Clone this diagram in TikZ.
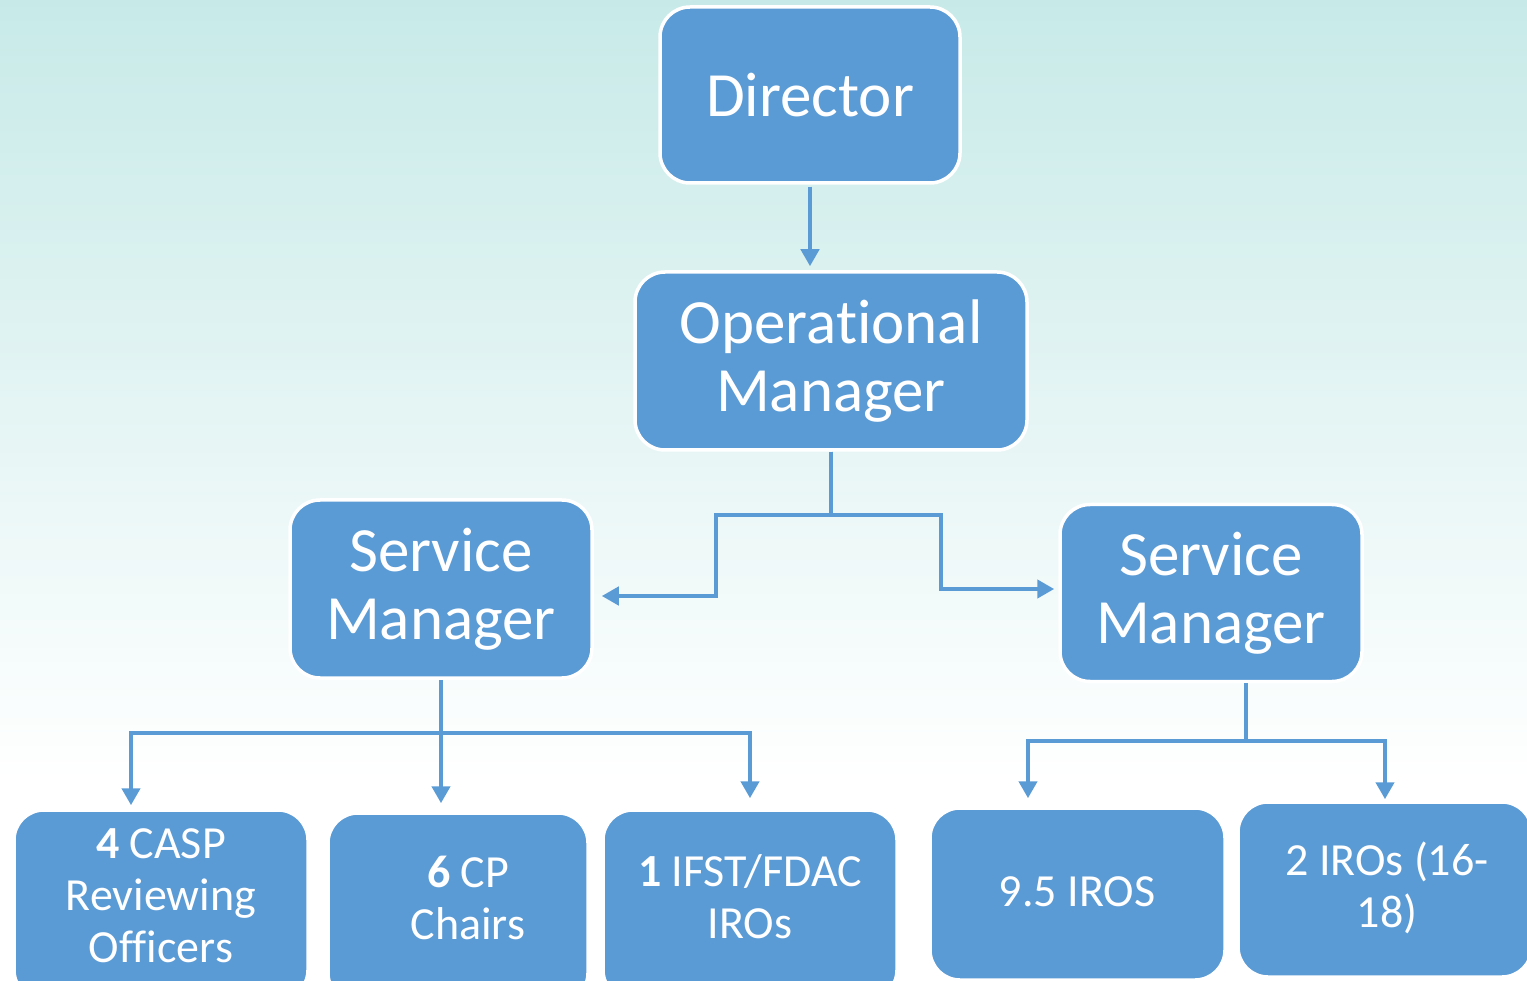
\documentclass[tikz,border=0pt]{standalone}
\usepackage{fontspec}
\setmainfont[RawFeature={-liga;-dlig;-clig}]{Carlito}
\usetikzlibrary{arrows.meta}
\definecolor{boxblue}{RGB}{91,155,213}
\definecolor{bgtop}{RGB}{199,234,232}
\begin{document}
\begin{tikzpicture}[x=1pt,y=-1pt,
  box/.style={rectangle, rounded corners=30pt, fill=boxblue, draw=white, line width=3.5pt, inner sep=0pt},
  big/.style={text=white, align=center, font=\fontsize{63}{68}\selectfont},
  small/.style={text=white, align=center, font=\fontsize{46}{52}\selectfont, inner sep=0pt},
  conn/.style={draw=boxblue, line width=4.6pt, -{Triangle[width=18pt,length=17pt]}},
  link/.style={draw=boxblue, line width=4.6pt}]
\useasboundingbox (0,0) rectangle (1527,981);
\clip (0,0) rectangle (1527,981);
\shade[top color=bgtop, bottom color=white] (0,0) rectangle (1527,780);

% top levels
\node[box, big, minimum width=300pt, minimum height=176pt] (dir) at (810,95) {Director};
\node[box, big, minimum width=392pt, minimum height=178pt] (om) at (831,361) {Operational\\Manager};
\node[box, big, minimum width=302pt, minimum height=178pt] (sml) at (441,589) {Service\\Manager};
\node[box, big, minimum width=302pt, minimum height=177pt] (smr) at (1211,593) {Service\\Manager};

% bottom boxes
\node[box, minimum width=294pt, minimum height=190pt] (casp) at (161,905) {};
\node[small] (tcasp) at (161,896) {\textbf{4} CASP\\Reviewing\\Officers};
\node[box, minimum width=260pt, minimum height=190pt] (cp) at (458,908) {};
\node[small] (tcp) at (468,898) {\textbf{6} CP\\Chairs};
\node[box, minimum width=294pt, minimum height=190pt] (ifst) at (750,905) {};
\node[small] (tifst) at (750,897) {\textbf{1} IFST/FDAC\\IROs};
\node[box, minimum width=295pt, minimum height=172pt] (iros) at (1077.5,894) {};
\node[small] (tiros) at (1077,892) {9.5 IROS};
\node[box, minimum width=294pt, minimum height=175pt] (iros2) at (1385,889.5) {};
\node[small] (tiros2) at (1387,888) {2 IROs (16-\\18)};

% connectors
\draw[conn, shorten <=2pt, shorten >=4pt] (dir.south) -- (dir.south |- om.north);
\draw[conn, shorten >=8pt] (om.south) |- (716,515) |- ([yshift=-7pt]sml.east);
\draw[conn, shorten >=4pt] (om.south) |- (941,515) |- ([yshift=4pt]smr.west);

\coordinate (lbar) at (441,733);
\draw[conn, shorten >=8pt] (sml.south) -- (sml.south |- cp.north);
\draw[conn, shorten >=3pt] (lbar) -| ([xshift=-30pt]casp.north);
\draw[conn, shorten >=10pt] (lbar) -| (ifst.north);

\coordinate (rbar) at (1246,741);
\draw[link] ([xshift=35pt]smr.south) -- (rbar);
\draw[conn, shorten >=8pt] (rbar) -| ([xshift=-49.5pt]iros.north);
\draw[conn, shorten >=1pt] (rbar) -| (iros2.north);
\end{tikzpicture}
\end{document}
